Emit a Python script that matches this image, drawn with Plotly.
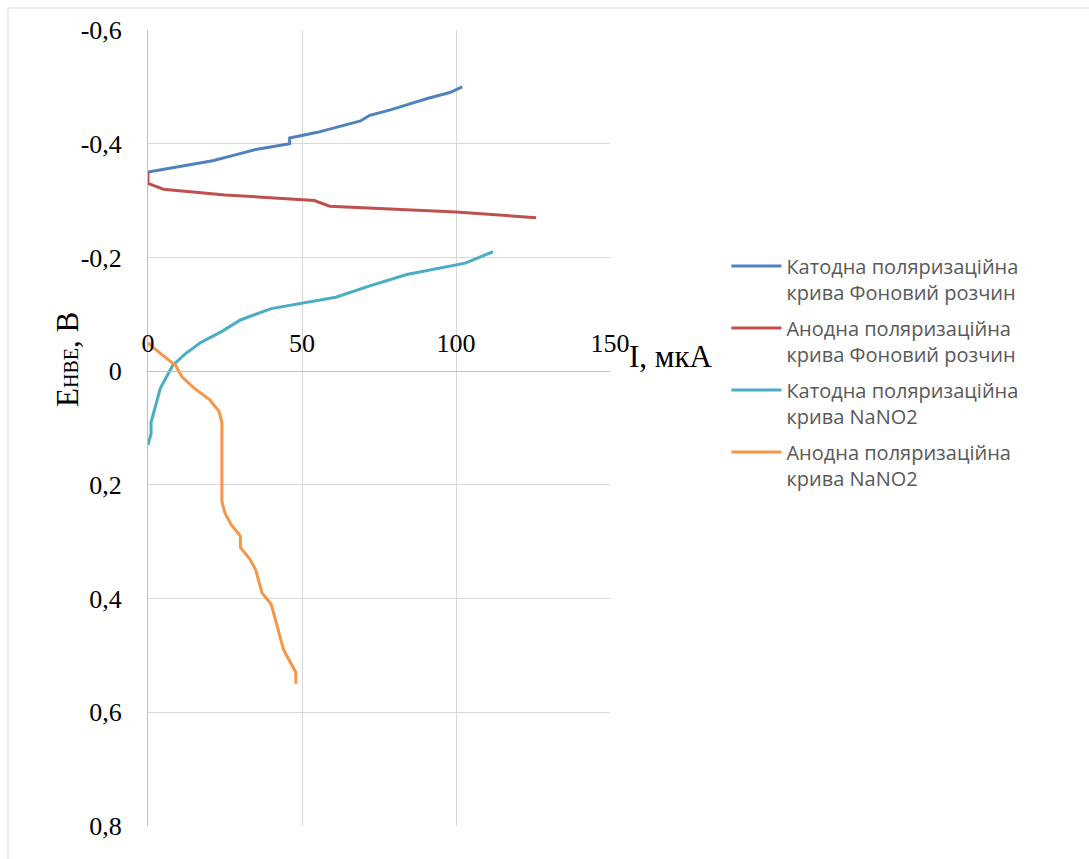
import plotly.graph_objects as go

# Polarization curves: current I (мкА) vs potential E (В, НВЕ)
cat_bg_i = [0, 10, 21, 28, 35, 46, 46, 55, 62, 69, 72, 79, 85, 91, 98, 102]
cat_bg_e = [-0.35, -0.36, -0.37, -0.38, -0.39, -0.40, -0.41, -0.42, -0.43, -0.44,
            -0.45, -0.46, -0.47, -0.48, -0.49, -0.50]

an_bg_i = [0, 0, 5, 25, 54, 59, 100, 126]
an_bg_e = [-0.35, -0.33, -0.32, -0.31, -0.30, -0.29, -0.28, -0.27]

cat_nano2_i = [0, 1, 1, 4, 8, 12, 17, 24, 30, 40, 61, 72, 84, 103, 112]
cat_nano2_e = [0.13, 0.11, 0.09, 0.03, -0.01, -0.03, -0.05, -0.07, -0.09, -0.11,
               -0.13, -0.15, -0.17, -0.19, -0.21]

an_nano2_i = [0, 2, 9, 11, 15, 20, 23, 24, 24, 25, 27, 30, 30, 33, 35, 37, 40, 44, 48, 48]
an_nano2_e = [-0.05, -0.04, -0.01, 0.01, 0.03, 0.05, 0.07, 0.09, 0.23, 0.25, 0.27,
              0.29, 0.31, 0.33, 0.35, 0.39, 0.41, 0.49, 0.53, 0.55]

series_names = [
    "Катодна поляризаційна<br>крива Фоновий розчин",
    "Анодна поляризаційна<br>крива Фоновий розчин",
    "Катодна поляризаційна<br>крива NaNO2",
    "Анодна поляризаційна<br>крива NaNO2",
]
series_colors = ["#4F81BD", "#C0504D", "#4BACC6", "#F79646"]

x_tick_vals = [0, 50, 100, 150]
x_tick_text = ["0", "50", "100", "150"]
y_tick_vals = [-0.6, -0.4, -0.2, 0, 0.2, 0.4, 0.6, 0.8]
y_tick_text = ["-0,6", "-0,4", "-0,2", "0", "0,2", "0,4", "0,6", "0,8"]

X_RANGE = [0, 150]
Y_RANGE = [0.8, -0.6]  # reversed: negative potentials at the top

fig = go.Figure()
data = [(cat_bg_i, cat_bg_e), (an_bg_i, an_bg_e),
        (cat_nano2_i, cat_nano2_e), (an_nano2_i, an_nano2_e)]
for k, ((xs, ys), name, color) in enumerate(zip(data, series_names, series_colors)):
    fig.add_trace(go.Scatter(x=xs, y=ys, mode="lines", name=name,
                             legendgroup=f"g{k}",
                             line=dict(color=color, width=3)))

serif = "Liberation Serif, Times New Roman, serif"
zero_pos = (Y_RANGE[0] - 0) / (Y_RANGE[0] - Y_RANGE[1])

fig.update_layout(
    width=1089, height=859,
    margin=dict(l=148, r=479, t=30, b=33),
    paper_bgcolor="white", plot_bgcolor="white",
    showlegend=True,
    legend=dict(
        x=1.252, y=0.728, xanchor="left", yanchor="top",
        font=dict(family="Open Sans, Noto Sans, sans-serif", size=20, color="#595959"),
        valign="top", tracegroupgap=7, itemwidth=50,
    ),
    xaxis=dict(
        range=X_RANGE, tickvals=x_tick_vals, ticktext=x_tick_text,
        anchor="free", position=zero_pos, side="top",
        showgrid=True, gridcolor="#d9d9d9", gridwidth=1,
        showline=True, linecolor="#bfbfbf", linewidth=1,
        zeroline=False, ticks="", ticklabelstandoff=9,
        tickfont=dict(family=serif, size=26, color="#000000"),
    ),
    yaxis=dict(
        range=Y_RANGE, tickvals=y_tick_vals, ticktext=y_tick_text,
        showgrid=True, gridcolor="#d9d9d9", gridwidth=1,
        showline=True, linecolor="#bfbfbf", linewidth=1,
        zeroline=False, ticks="", ticklabelstandoff=20,
        tickfont=dict(family=serif, size=26, color="#000000"),
    ),
    annotations=[
        dict(text="I, мкА", xref="paper", yref="paper",
             x=(627 - 148) / 462, y=(826 - 356) / 796,
             xanchor="left", yanchor="middle", showarrow=False,
             font=dict(family=serif, size=31, color="#000000")),
        dict(text="E<span style='font-size:20px'>НВЕ</span>, В",
             xref="paper", yref="paper", textangle=-90,
             x=(68 - 148) / 462, y=(826 - 360) / 796,
             xanchor="center", yanchor="middle", showarrow=False,
             font=dict(family=serif, size=31, color="#000000")),
    ],
    shapes=[
        dict(type="line", xref="paper", yref="paper", layer="below",
             x0=-140 / 462, x1=941 / 462, y0=818 / 796, y1=818 / 796,
             line=dict(color="#d9d9d9", width=1)),
        dict(type="line", xref="paper", yref="paper", layer="below",
             x0=-140 / 462, x1=-140 / 462, y0=818 / 796, y1=-33 / 796,
             line=dict(color="#d9d9d9", width=1)),
    ],
)

fig.write_html("out.html")
